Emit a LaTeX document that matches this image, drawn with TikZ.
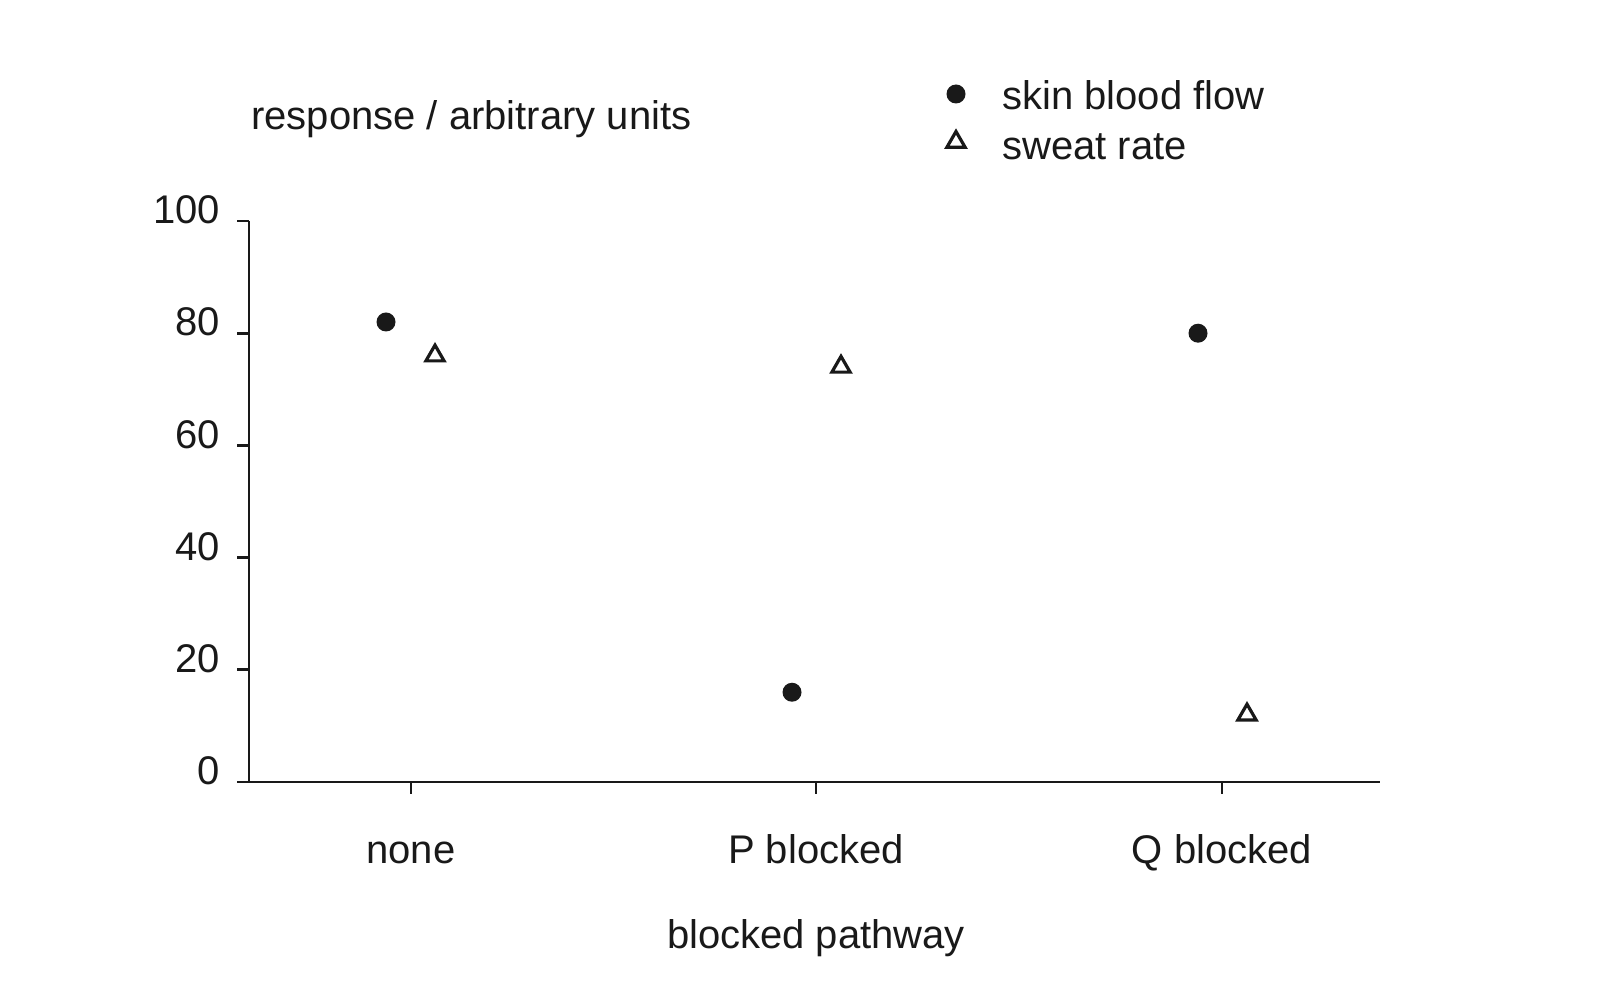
\documentclass[tikz,border=0pt]{standalone}
\usepackage{fontspec}
\setmainfont{Liberation Sans}
\usetikzlibrary{shapes.geometric}
\begin{document}
\begin{tikzpicture}[x=1pt,y=-1pt,
  lab/.style={font=\fontsize{40}{46}\selectfont,text=black!90,inner sep=0pt},
  dot/.style={circle,fill=black!90,inner sep=0pt,minimum size=19pt},
  tri/.style={regular polygon,regular polygon sides=3,draw=black!90,line width=3.2pt,inner sep=0pt,minimum size=21pt},
  ax/.style={line width=2.8pt,black!90}]
\useasboundingbox (0,0) rectangle (1600,1000);
\def\Y#1{782-5.61*#1}
% axes
\coordinate (o) at (249,782);
\coordinate (t) at (249,221);
\coordinate (r) at (1380,782);
\draw[ax] (t) -- (o) -- (r);
\foreach \v in {0,20,...,100}{
  \draw[ax] (237,{\Y{\v}}) -- (249,{\Y{\v}});
  \node[lab,anchor=mid east] (y\v) at (220,{\Y{\v}}) {\v};
}
\foreach \x/\n/\t in {411/a/none,816/b/P blocked,1222/c/Q blocked}{
  \draw[ax] (\x,782) -- (\x,794);
  \node[lab,anchor=base] (x\n) at (\x,863) {\t};
}
\node[lab,anchor=base] (xl) at (816,948) {blocked pathway};
\node[lab,anchor=base west] (yl) at (251,130) {response / arbitrary units};
% data
\node[dot] (d1) at (386,{\Y{82}}) {};
\node[tri] (t1) at (435,{\Y{76}}) {};
\node[dot] (d2) at (792,{\Y{16}}) {};
\node[tri] (t2) at (841,{\Y{74}}) {};
\node[dot] (d3) at (1198,{\Y{80}}) {};
\node[tri] (t3) at (1247,{\Y{12}}) {};
% legend
\node[dot] (ld) at (956,94) {};
\node[tri] (lt) at (956,142) {};
\node[lab,anchor=base west] (lds) at (1002,110) {skin blood flow};
\node[lab,anchor=base west] (lts) at (1002,160) {sweat rate};
\end{tikzpicture}
\end{document}
